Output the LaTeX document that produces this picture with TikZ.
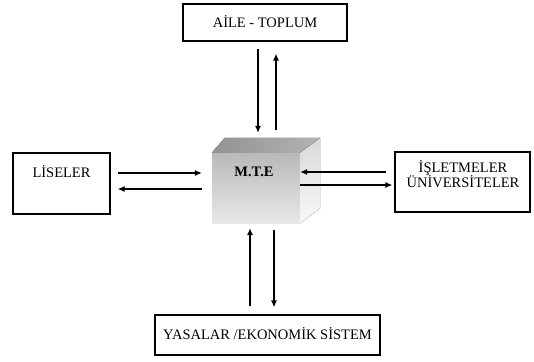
\documentclass[tikz,border=0pt]{standalone}
\usepackage{fontspec}
\setmainfont{Liberation Serif}
\usetikzlibrary{arrows.meta}
\begin{document}
\begin{tikzpicture}[x=1pt,y=-1pt,
  box/.style={draw=black, line width=1.4pt, inner sep=0pt, fill=white},
  txt/.style={font=\fontsize{14.5}{16}\selectfont, inner sep=0pt, align=center},
  arr/.style={line width=1.1pt, -{Latex[length=7pt,width=6pt]}}]
\useasboundingbox (0,0) rectangle (534,361);
% boxes
\node[box, minimum width=164pt, minimum height=37pt] (top) at (265,22.5) {};
\node[txt] (toptxt) at (265,22) {AİLE - TOPLUM};
\node[box, minimum width=97pt, minimum height=61pt] (lis) at (61.5,183.5) {};
\node[txt] (listxt) at (61.5,172) {LİSELER};
\node[box, minimum width=135pt, minimum height=60pt] (rb) at (462.5,182) {};
\node[txt] (rbtxt) at (463,174) {İŞLETMELER\\[-1pt]ÜNİVERSİTELER};
\node[box, minimum width=225pt, minimum height=40pt] (bot) at (267.5,335) {};
\node[txt] (bottxt) at (267.5,334) {YASALAR /EKONOMİK SİSTEM};
% cube
\node[inner sep=0pt, minimum width=88pt, minimum height=70pt, top color=gray!55, bottom color=gray!18] (cube) at (256,188) {};
\coordinate (cubetop) at ([yshift=15pt]cube.north);
\fill[left color=gray!85, right color=gray!60] (cube.north west) -- ([xshift=13pt,yshift=15pt]cube.north west) -- ([xshift=20pt,yshift=15pt]cube.north east) -- (cube.north east) -- cycle;
\fill[top color=gray!30, bottom color=gray!5] (cube.north east) -- ([xshift=20pt,yshift=15pt]cube.north east) -- ([xshift=20pt,yshift=15pt]cube.south east) -- (cube.south east) -- cycle;
\node[font=\bfseries\fontsize{14.5}{16}\selectfont, inner sep=0pt] (mte) at (254,172) {M.T.E};
% connectors
\draw[arr, shorten <=7pt, shorten >=10pt] (lis.east |- 0,173) -- (cube.west |- 0,173);
\draw[arr, shorten <=10pt, shorten >=7pt] (cube.west |- 0,189) -- (lis.east |- 0,189);
\draw[arr, shorten <=8pt] (rb.west |- 0,172) -- (cube.east |- 0,172);
\draw[arr, shorten >=2pt] (cube.east |- 0,185) -- (rb.west |- 0,185);
\draw[arr, shorten <=7pt, shorten >=5pt] (top.south -| 258,0) -- (cubetop -| 258,0);
\draw[arr, shorten <=8pt, shorten >=12pt] (cubetop -| 276,0) -- (top.south -| 276,0);
\draw[arr, shorten <=8pt, shorten >=5pt] (bot.north -| 250,0) -- (cube.south -| 250,0);
\draw[arr, shorten <=7pt, shorten >=7pt] (cube.south -| 274,0) -- (bot.north -| 274,0);
\end{tikzpicture}
\end{document}
